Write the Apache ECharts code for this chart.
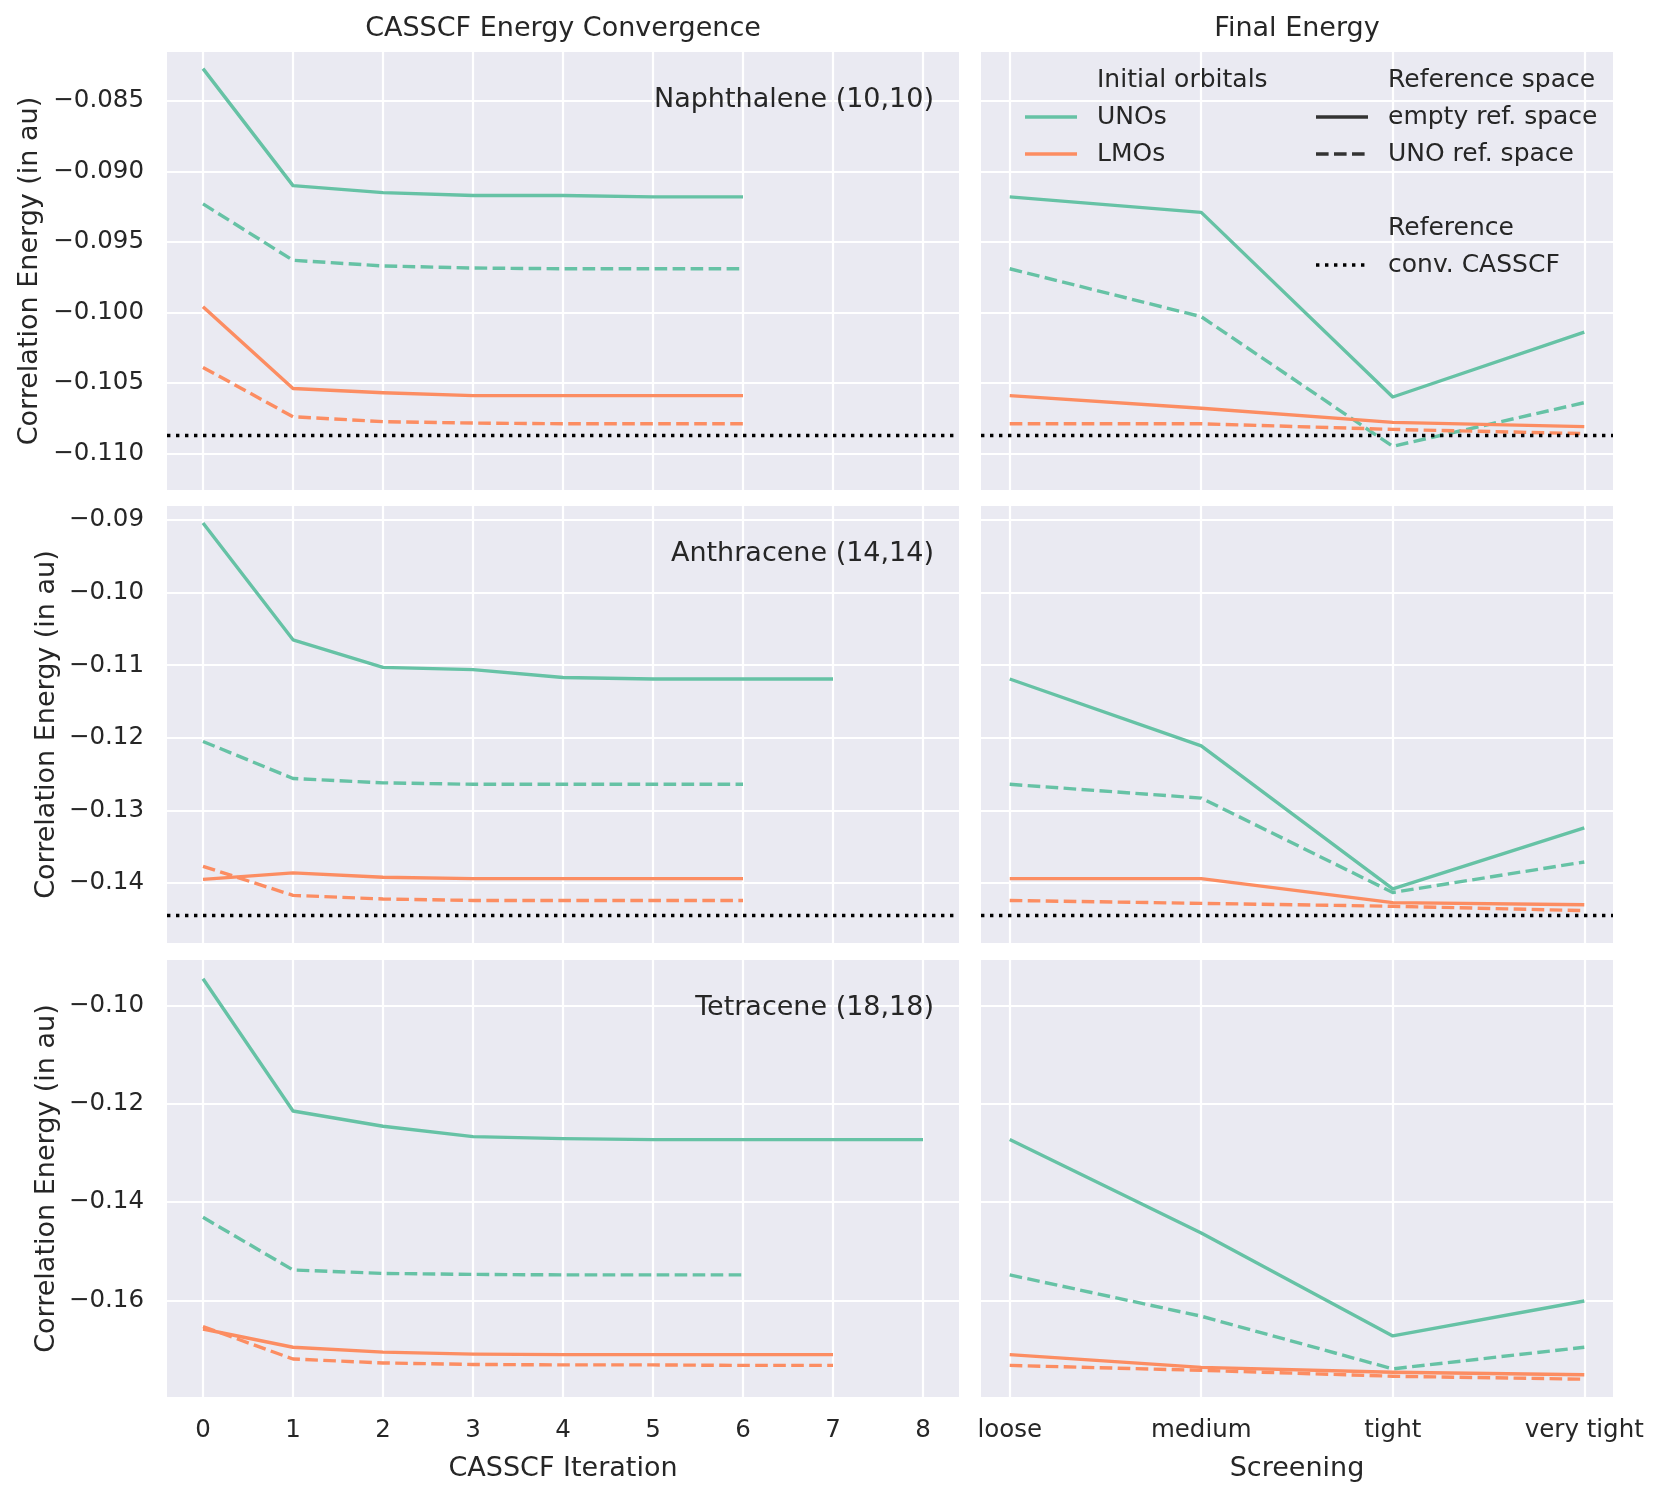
<!DOCTYPE html>
<html><head><meta charset="utf-8">
<script src="https://cdn.jsdelivr.net/npm/echarts@6/dist/echarts.min.js"></script>
<style>html,body{margin:0;padding:0;background:#fff}#c{width:1662px;height:1497px}</style>
</head><body><div id="c"></div><script>
// ---------- data ----------
const iterTicks = [0, 1, 2, 3, 4, 5, 6, 7, 8];
const screening = ['loose', 'medium', 'tight', 'very tight'];
const molecules = ['Naphthalene (10,10)', 'Anthracene (14,14)', 'Tetracene (18,18)'];

// Naphthalene (10,10)
const naphIterUNO    = [-0.0827, -0.0910, -0.0915, -0.0917, -0.0917, -0.0918, -0.0918];
const naphIterUNOref = [-0.0923, -0.0963, -0.0967, -0.09685, -0.0969, -0.0969, -0.0969];
const naphIterLMO    = [-0.0996, -0.1054, -0.1057, -0.1059, -0.1059, -0.1059, -0.1059];
const naphIterLMOref = [-0.1039, -0.1074, -0.10775, -0.10785, -0.1079, -0.1079, -0.1079];
const naphScrUNO     = [-0.0918, -0.0929, -0.1060, -0.1014];
const naphScrUNOref  = [-0.0969, -0.1003, -0.1095, -0.1064];
const naphScrLMO     = [-0.1059, -0.1068, -0.1078, -0.1081];
const naphScrLMOref  = [-0.1079, -0.1079, -0.1083, -0.1086];
const naphRef = -0.1087;

// Anthracene (14,14)
const anthIterUNO    = [-0.0904, -0.1065, -0.1103, -0.1106, -0.1117, -0.1119, -0.1119, -0.1119];
const anthIterUNOref = [-0.1205, -0.1256, -0.1262, -0.1264, -0.1264, -0.1264, -0.1264];
const anthIterLMO    = [-0.1395, -0.1386, -0.1392, -0.1394, -0.1394, -0.1394, -0.1394];
const anthIterLMOref = [-0.1377, -0.1417, -0.1422, -0.1424, -0.1424, -0.1424, -0.1424];
const anthScrUNO     = [-0.1119, -0.1211, -0.1408, -0.1324];
const anthScrUNOref  = [-0.1264, -0.1283, -0.1413, -0.1371];
const anthScrLMO     = [-0.1394, -0.1394, -0.1427, -0.1430];
const anthScrLMOref  = [-0.1424, -0.1428, -0.1432, -0.1438];
const anthRef = -0.1444;

// Tetracene (18,18)
const tetrIterUNO    = [-0.0946, -0.1215, -0.1246, -0.1267, -0.1271, -0.1273, -0.1273, -0.1273, -0.1273];
const tetrIterUNOref = [-0.1431, -0.1538, -0.1545, -0.1547, -0.1548, -0.1548, -0.1548];
const tetrIterLMO    = [-0.1658, -0.1695, -0.1705, -0.1709, -0.1710, -0.1710, -0.1710, -0.1710];
const tetrIterLMOref = [-0.1653, -0.1719, -0.1727, -0.1730, -0.1731, -0.1731, -0.1732, -0.1732];
const tetrScrUNO     = [-0.1273, -0.1463, -0.1672, -0.1601];
const tetrScrUNOref  = [-0.1548, -0.1632, -0.1739, -0.1695];
const tetrScrLMO     = [-0.1710, -0.1736, -0.1746, -0.1751];
const tetrScrLMOref  = [-0.1732, -0.1742, -0.1754, -0.1760];

// y tick labels per row
const yTicksNaph = [-0.110, -0.105, -0.100, -0.095, -0.090, -0.085];
const yTicksAnth = [-0.14, -0.13, -0.12, -0.11, -0.10, -0.09];
const yTicksTetr = [-0.16, -0.14, -0.12, -0.10];

// ---------- style / layout ----------
const FONT = 'DejaVu Sans';
const TXT = '#262626';
const BG = '#EAEAF2';
const C_UNO = '#66c2a5';
const C_LMO = '#fc8d62';
const LW = 3.4;
const DASH = [12.6, 5.4];
const DOT = [3.4, 5.6];

const rows = [
  {name: molecules[0], iter: [naphIterUNO, naphIterUNOref, naphIterLMO, naphIterLMOref],
   scr: [naphScrUNO, naphScrUNOref, naphScrLMO, naphScrLMOref], ref: naphRef,
   ticks: yTicksNaph, dec: 3, min: -0.1126, max: -0.08152, top: 52, h: 438, nameGap: 124},
  {name: molecules[1], iter: [anthIterUNO, anthIterUNOref, anthIterLMO, anthIterLMOref],
   scr: [anthScrUNO, anthScrUNOref, anthScrLMO, anthScrLMOref], ref: anthRef,
   ticks: yTicksAnth, dec: 2, min: -0.14826, max: -0.08807, top: 506, h: 437, nameGap: 107},
  {name: molecules[2], iter: [tetrIterUNO, tetrIterUNOref, tetrIterLMO, tetrIterLMOref],
   scr: [tetrScrUNO, tetrScrUNOref, tetrScrLMO, tetrScrLMOref], ref: null,
   ticks: yTicksTetr, dec: 2, min: -0.17962, max: -0.0908, top: 960, h: 437, nameGap: 107}
];
const COLS = [{left: 167, width: 792}, {left: 981, width: 632}];

const grids = [], xAxes = [], yAxes = [], series = [], graphics = [];
const styles = [
  {color: C_UNO, type: 'solid'}, {color: C_UNO, type: DASH},
  {color: C_LMO, type: 'solid'}, {color: C_LMO, type: DASH}
];
const fmtY = dec => v => '\u2212' + Math.abs(v).toFixed(dec);

rows.forEach((row, r) => {
  COLS.forEach((col, c) => {
    const gi = r * 2 + c;
    grids.push({left: col.left, top: row.top, width: col.width, height: row.h,
      show: true, backgroundColor: BG, borderWidth: 0, containLabel: false});
    const bottom = r === 2;
    if (c === 0) {
      xAxes.push({gridIndex: gi, type: 'value', min: -0.4, max: 8.4,
        axisLine: {show: false}, axisTick: {show: false, customValues: iterTicks},
        axisLabel: {show: bottom, customValues: iterTicks, color: TXT, fontFamily: FONT, fontSize: 24.5, margin: 21},
        splitLine: {show: true, lineStyle: {color: '#fff', width: 2.2}},
        name: bottom ? 'CASSCF Iteration' : '', nameLocation: 'middle', nameGap: 58,
        nameTextStyle: {color: TXT, fontFamily: FONT, fontSize: 27}});
    } else {
      const idx = [0, 1, 2, 3];
      xAxes.push({gridIndex: gi, type: 'value', min: -0.15, max: 3.15,
        axisLine: {show: false}, axisTick: {show: false, customValues: idx},
        axisLabel: {show: bottom, customValues: idx, formatter: v => screening[Math.round(v)],
          color: TXT, fontFamily: FONT, fontSize: 24.5, margin: 21},
        splitLine: {show: true, lineStyle: {color: '#fff', width: 2.2}},
        name: bottom ? 'Screening' : '', nameLocation: 'middle', nameGap: 58,
        nameTextStyle: {color: TXT, fontFamily: FONT, fontSize: 27}});
    }
    yAxes.push({gridIndex: gi, type: 'value', min: row.min, max: row.max,
      axisLine: {show: false}, axisTick: {show: false, customValues: row.ticks},
      axisLabel: {show: c === 0, customValues: row.ticks, formatter: fmtY(row.dec),
        color: TXT, fontFamily: FONT, fontSize: 24.5, margin: 23},
      splitLine: {show: true, lineStyle: {color: '#fff', width: 2.2}},
      name: c === 0 ? 'Correlation Energy (in au)' : '', nameLocation: 'middle', nameRotate: 90,
      nameGap: row.nameGap, nameTextStyle: {color: TXT, fontFamily: FONT, fontSize: 27}});

    const sets = c === 0 ? row.iter : row.scr;
    sets.forEach((arr, k) => {
      const s = {type: 'line', xAxisIndex: gi, yAxisIndex: gi, symbol: 'none', silent: true,
        data: arr.map((v, i) => [c === 0 ? iterTicks[i] : i, v]),
        lineStyle: {color: styles[k].color, type: styles[k].type, width: LW, cap: 'butt', join: 'round'},
        itemStyle: {color: styles[k].color}, z: 3};
      if (k === 0 && row.ref !== null) {
        s.markLine = {silent: true, symbol: 'none', precision: 6, label: {show: false},
          lineStyle: {color: '#000', type: DOT, width: LW}, data: [{yAxis: row.ref}]};
      }
      series.push(s);
    });
  });
  graphics.push({type: 'text', x: 934, y: row.top + 48, z: 20,
    style: {text: row.name, fill: TXT, font: '27px "DejaVu Sans"', textAlign: 'right', textVerticalAlign: 'middle'}});
});

// column titles
graphics.push({type: 'text', x: 563, y: 29, z: 20,
  style: {text: 'CASSCF Energy Convergence', fill: TXT, font: '27px "DejaVu Sans"', textAlign: 'center', textVerticalAlign: 'middle'}});
graphics.push({type: 'text', x: 1297, y: 29, z: 20,
  style: {text: 'Final Energy', fill: TXT, font: '27px "DejaVu Sans"', textAlign: 'center', textVerticalAlign: 'middle'}});

// legend (drawn as graphic keys)
const legFont = '25px "DejaVu Sans"';
const legText = (t, x, y) => ({type: 'text', x: x, y: y, z: 20,
  style: {text: t, fill: TXT, font: legFont, textAlign: 'left', textVerticalAlign: 'middle'}});
const legLine = (x1, x2, y, color, dash) => ({type: 'line', z: 20, shape: {x1: x1, y1: y, x2: x2, y2: y},
  style: {stroke: color, lineWidth: LW, lineDash: dash}});
graphics.push(legText('Initial orbitals', 1097, 80));
graphics.push(legLine(1025, 1077, 117, C_UNO, null));
graphics.push(legText('UNOs', 1097, 117));
graphics.push(legLine(1025, 1077, 154, C_LMO, null));
graphics.push(legText('LMOs', 1097, 154));
graphics.push(legText('Reference space', 1388, 80));
graphics.push(legLine(1316, 1368, 117, '#333333', null));
graphics.push(legText('empty ref. space', 1388, 117));
graphics.push(legLine(1316, 1368, 154, '#333333', DASH));
graphics.push(legText('UNO ref. space', 1388, 154));
graphics.push(legText('Reference', 1388, 228));
graphics.push(legLine(1316, 1368, 265, '#000000', DOT));
graphics.push(legText('conv. CASSCF', 1388, 265));

const chart = echarts.init(document.getElementById('c'), null, {renderer: 'canvas'});
chart.setOption({
  animation: false,
  backgroundColor: '#ffffff',
  textStyle: {fontFamily: FONT},
  grid: grids, xAxis: xAxes, yAxis: yAxes, series: series, graphic: graphics
});
</script></body></html>
